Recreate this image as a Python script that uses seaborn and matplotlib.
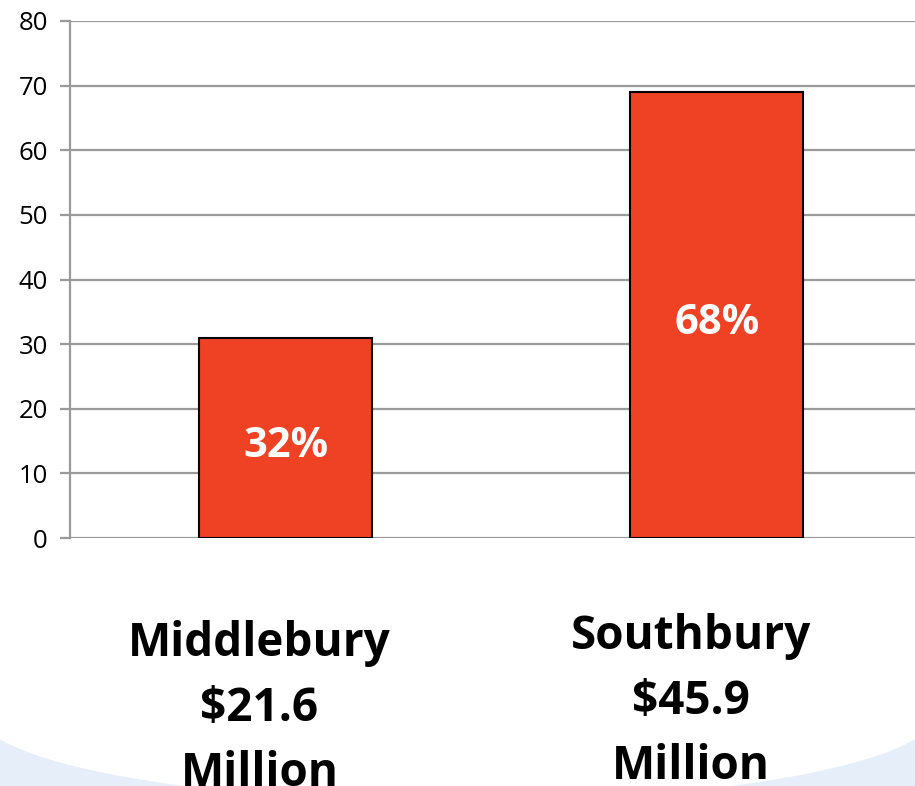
import matplotlib
matplotlib.use("Agg")
import matplotlib.pyplot as plt
import matplotlib.transforms as mtransforms
from matplotlib.patches import Ellipse, Rectangle
import pandas as pd
import seaborn as sns

# dados
towns = ["Middlebury", "Southbury"]
heights = [31, 69]
pct_labels = ["32%", "68%"]
amounts = ["$21.6", "$45.9"]
yticks = [0, 10, 20, 30, 40, 50, 60, 70, 80]

BAR_RED = "#EF4224"
GRID_GRAY = "#9a9a9a"

sns.set_theme(style="white")
plt.rcParams["font.family"] = ["Open Sans", "DejaVu Sans"]

df = pd.DataFrame({"town": towns, "value": heights})

fig = plt.figure(figsize=(9.15, 7.86), dpi=100)

# fundo azul claro nos cantos inferiores (estilo slide)
fig.patches.append(Rectangle((0, 0), 1, 56 / 786, transform=fig.transFigure,
                             facecolor="#e6eff9", edgecolor="none", zorder=-2))
fig.patches.append(Ellipse((0.5, 1 - 712 / 786), 960 / 915, 180 / 786,
                           transform=fig.transFigure, facecolor="white",
                           edgecolor="none", zorder=-1))

ax = fig.add_axes([70 / 915, 1 - 538 / 786, 1 - 70 / 915, (538 - 21) / 786])
ax.set_facecolor("none")
ax.set_zorder(2)

sns.barplot(data=df, x="town", y="value", color=BAR_RED, saturation=1,
            width=0.4, edgecolor="black", linewidth=1.5, ax=ax, zorder=3)

ax.set_ylim(0, 80)
ax.set_xlim(-0.5, 1.46)
ax.set_yticks(yticks)
ax.yaxis.grid(True, color=GRID_GRAY, lw=1.6)
ax.set_axisbelow(True)
for side in ["top", "right", "bottom"]:
    ax.spines[side].set_visible(False)
ax.spines["left"].set_color(GRID_GRAY)
ax.spines["left"].set_linewidth(1.6)
ax.tick_params(axis="y", length=7, width=1.6, color=GRID_GRAY,
               labelsize=18.5, labelcolor="black", pad=9, left=True)
ax.set_xticks([])
ax.set_xlabel(""); ax.set_ylabel("")

ax.bar_label(ax.containers[0], labels=pct_labels, label_type="center",
             color="white", fontsize=30, fontweight="bold", padding=-6)

# rótulos das cidades abaixo do eixo
offset = mtransforms.ScaledTranslation(-26 / 100, 0, fig.dpi_scale_trans)
trans = mtransforms.blended_transform_factory(ax.transData, ax.transAxes) + offset
for i, (town, amt) in enumerate(zip(towns, amounts)):
    ax.text(i, -0.158 + 0.012 * i, f"{town}\n{amt}\nMillion", transform=trans,
            ha="center", va="top", fontsize=33, fontweight="bold",
            color="black", linespacing=1.5, clip_on=False)

fig.savefig("out.png", dpi=100)
